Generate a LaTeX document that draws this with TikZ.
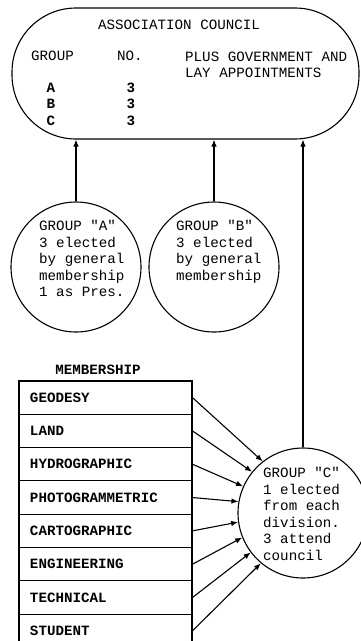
\documentclass[tikz,border=0pt]{standalone}
\usepackage{fontspec}
\setmonofont{Liberation Mono}
\usetikzlibrary{arrows.meta, positioning}

\tikzset{
  ln/.style={line width=1.1pt},
  arr/.style={ln, -{Latex[length=7pt,width=5.5pt]}},
  tw/.style={font=\ttfamily\fontsize{14.2}{16.6}\selectfont, inner sep=0pt},
  twb/.style={font=\ttfamily\bfseries\fontsize{14.2}{16.6}\selectfont, inner sep=0pt},
  grp/.style={ln, draw, circle, minimum size=130pt, inner sep=0pt},
  row/.style={ln, draw, rectangle, minimum width=173pt, minimum height=33.3pt,
     text width=151pt, align=left, font=\ttfamily\bfseries\fontsize{14.2}{16.6}\selectfont}
}

\begin{document}
\begin{tikzpicture}[x=1pt, y=-1pt]
\useasboundingbox (0,0) rectangle (360,641);

% council box on top
\node[ln, draw, rectangle, rounded corners=64pt, minimum width=347pt, minimum height=131pt]
   (council) at (185.5,73.5) {};
\node[tw] (title) at (179,25) {ASSOCIATION COUNCIL};
\node[tw, anchor=base west] (hgrp) at (31,60) {GROUP};
\node[tw, anchor=base west] (hno) at (117,60) {NO.};
\node[tw, anchor=north west, align=left] (plus) at (185,51.5) {PLUS GOVERNMENT AND\\LAY APPOINTMENTS};
\node[twb, anchor=base] (ga) at (51,92) {A};
\node[twb, anchor=base] (gb) at (51,108.5) {B};
\node[twb, anchor=base] (gc) at (51,125) {C};
\node[twb, anchor=base] (na) at (131,92) {3};
\node[twb, anchor=base] (nb) at (131,108.5) {3};
\node[twb, anchor=base] (nc) at (131,125) {3};

% group circles A and B
\node[grp] (grpA) at (76,267) {};
\node[grp] (grpB) at (214,267) {};
\node[tw, anchor=north west, align=left] (txtA) at (39,220)
   {GROUP "A"\\3 elected\\by general\\membership\\1 as Pres.};
\node[tw, anchor=north west, align=left] (txtB) at (176,220)
   {GROUP "B"\\3 elected\\by general\\membership};

% group circle C
\node[grp] (grpC) at (303,513) {};
\node[tw, anchor=north west, align=left] (txtC) at (263,467)
   {GROUP "C"\\1 elected\\from each\\division.\\3 attend\\council};

% arrows up to the council
\draw[arr] (grpA.north) -- (grpA.north |- council.south);
\draw[arr] (grpB.north) -- (grpB.north |- council.south);
\draw[arr] (grpC.north) -- (grpC.north |- council.south);

% membership table
\node[twb] (memb) at (98,370) {MEMBERSHIP};
\foreach \nm [count=\i] in {GEODESY, LAND, HYDROGRAPHIC, PHOTOGRAMMETRIC,
   CARTOGRAPHIC, ENGINEERING, TECHNICAL, STUDENT}
  \node[row] (m\i) at (105.5, 364.35+33.3*\i) {\nm};

% arrows from divisions to group C
\foreach \i/\a in {1/128, 2/141, 3/156, 4/170, 5/188, 6/202, 7/217, 8/230}
  \draw[arr] (m\i.east) -- (grpC.\a);

\end{tikzpicture}
\end{document}
